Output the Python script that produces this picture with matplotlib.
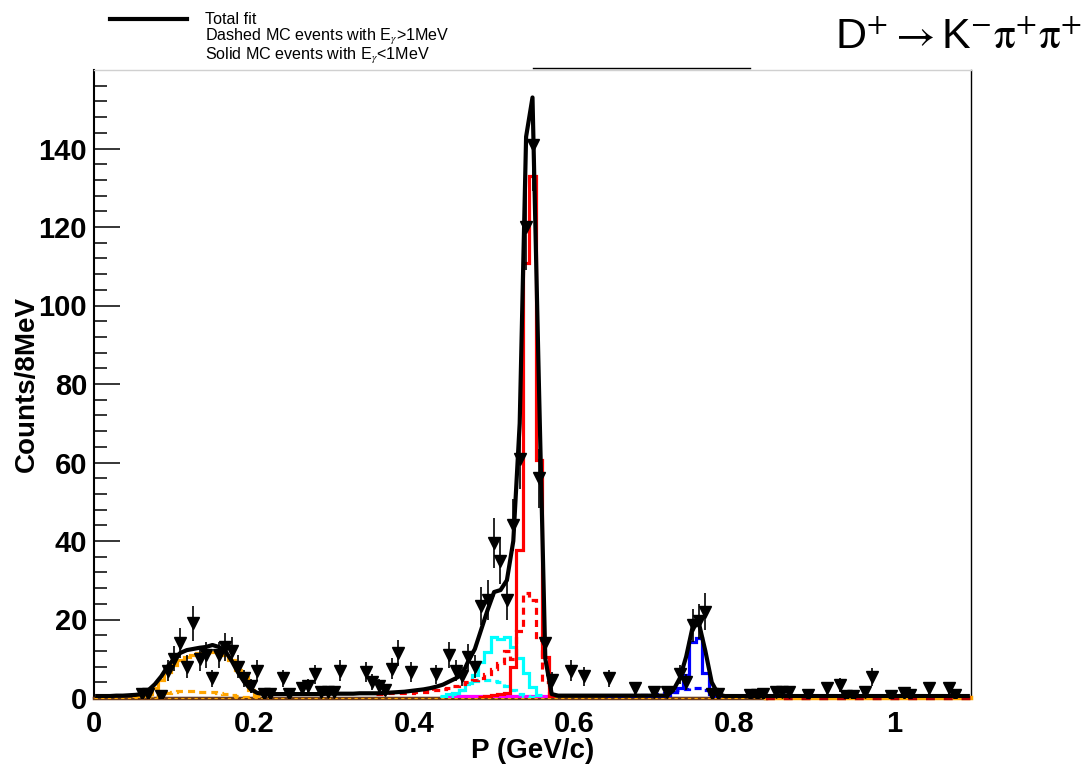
import numpy as np
import matplotlib
matplotlib.use("Agg")
import matplotlib.pyplot as plt
from matplotlib.lines import Line2D

plt.rcParams['font.family'] = ['Liberation Sans', 'DejaVu Sans']
plt.rcParams['mathtext.fontset'] = 'stix'

# binning: 8 MeV bins from 0
BIN_WIDTH = 0.008
N_BINS = 137

# data points (bin index, counts)
data_bins = [7, 8, 10, 11, 12, 13, 14, 15, 16, 17, 18, 19, 20, 21, 22, 23, 24, 25,
             26, 27, 29, 30, 32, 33, 34, 35, 36, 37, 38, 42, 43, 44, 45, 46, 47, 49,
             53, 55, 56, 57, 58, 59, 60, 61, 62, 63, 64, 65, 66, 67, 68, 69, 70, 71,
             74, 76, 80, 84, 87, 89, 91, 92, 93, 94, 95, 96, 97, 102, 103, 104, 106,
             107, 108, 111, 114, 116, 117, 118, 120, 121, 124, 126, 127, 130, 133, 134]
data_counts = [1, 1, 0.4, 7, 10, 14, 8, 19, 10, 11, 5, 11, 13, 12, 8, 5, 3, 7,
               1, 1, 5, 1, 2.5, 3, 6, 1.5, 1.5, 1.5, 7, 6.5, 4, 3, 2, 7.5, 11.5, 6.5,
               6, 11, 7, 5.5, 10.5, 8, 23.5, 25, 39.5, 35, 25, 44, 61, 120, 141, 56, 14, 4.5,
               7, 5.5, 5, 2.5, 1.5, 1.5, 6, 4, 18.5, 19.5, 22, 1, 1, 0.7, 0.7, 1, 1.5,
               1.5, 1.5, 0.8, 2.5, 3.3, 0.5, 0.5, 1.5, 5.4, 0.5, 1.2, 0.8, 2.5, 2.5, 0.8]

# total fit, one value per bin centre
fit_values = [
    0.5, 0.5, 0.5, 0.6, 0.6, 0.7, 0.8, 1.0, 2.0, 3.5,
    5.5, 8.0, 10.0, 11.5, 12.2, 12.5, 12.8, 13.0, 13.5, 13.0,
    12.0, 9.5, 6.5, 4.0, 2.2, 1.3, 1.0, 1.0, 1.0, 1.0,
    1.0, 1.0, 1.0, 1.0, 1.0, 1.0, 1.1, 1.1, 1.1, 1.1,
    1.1, 1.2, 1.2, 1.2, 1.2, 1.3, 1.4, 1.5, 1.6, 1.8,
    2.0, 2.2, 2.5, 2.9, 3.4, 4.2, 5.0, 6.0, 9.5, 12.5,
    17.5, 22.5, 27.0, 27.5, 30.0, 40.0, 70.0, 143.0, 153.0, 80.0,
    10.0, 1.0, 0.6, 0.6, 0.6, 0.6, 0.6, 0.6, 0.6, 0.6,
    0.6, 0.6, 0.6, 0.6, 0.6, 0.6, 0.6, 0.6, 0.6, 0.6,
    2.0, 5.0, 10.5, 18.0, 19.0, 12.0, 4.0, 1.0, 0.5, 0.5,
    0.5, 0.5, 0.5, 0.5, 0.5, 0.5, 0.5, 0.5, 0.5, 0.5,
    0.5, 0.5, 0.5, 0.5, 0.5, 0.5, 0.5, 0.5, 0.5, 0.5,
    0.5, 0.5, 0.5, 0.5, 0.5, 0.5, 0.5, 0.5, 0.5, 0.5,
    0.5, 0.5, 0.5, 0.5, 0.5, 0.5, 0.5,
]

# MC components: (first bin, contents)
orange_solid_start = 6
orange_solid = [0.3, 0.5, 1, 2.5, 4.6, 6.7, 8.4, 9.7, 10.5, 11, 11.4, 11.4, 11.8, 12,
                11, 9.7, 7.1, 5.4, 2.1, 0.5]
orange_dashed_start = 8
orange_dashed = [0.3, 0.6, 1.0, 1.3, 1.5, 1.8, 1.8, 1.8, 1.6, 1.5, 1.5, 1.2, 1.0, 0.8,
                 0.5, 0.3, 0.2]

cyan_solid_start = 54
cyan_solid = [0.5, 1, 1.2, 2, 3.7, 5.9, 9.2, 11.8, 15.6, 15, 15.6, 13, 10.2, 6.3, 2.9, 0.7]
cyan_dashed_start = 54
cyan_dashed = [0.3, 0.5, 1, 2, 3.5, 4.3, 4.6, 4.6, 4.4, 4.2, 3, 2, 1, 0.5, 0.3]

red_solid_start = 60
red_solid = [0.3, 0.5, 0.7, 1, 1.3, 8, 37.7, 110.8, 133, 60.6, 10.5, 0.5]
red_dashed_start = 44
red_dashed = [1, 1, 1.2, 1.2, 1.3, 1.3, 1.5, 1.5, 1.8, 2, 2.2, 2.5, 3, 3.5, 4, 4.5,
              5, 6, 7.5, 9, 12, 10, 17, 26.7, 25, 14.8, 4, 0.5]

magenta_start = 55
magenta = [0.4, 0.4, 0.4, 0.4, 0.4, 0.4, 0.4, 0.4, 0.4, 0.4, 0.4, 0.4, 0.4, 0.4, 0.4, 0.4]

blue_solid_start = 86
blue_solid = [0.3, 0.5, 0.6, 0.8, 1.5, 2.5, 5.9, 14.3, 15.4, 6.3, 1, 0.3]
blue_dashed_start = 80
blue_dashed = [0.3, 0.4, 0.5, 0.5, 0.6, 0.7, 0.8, 0.9, 1, 1.2, 1.5, 2.0, 2.2, 2.5,
               2.5, 2.0, 0.5]

x_ticks = [0, 0.2, 0.4, 0.6, 0.8, 1.0]
x_tick_labels = ['0', '0.2', '0.4', '0.6', '0.8', '1']
y_ticks = [0, 20, 40, 60, 80, 100, 120, 140]


def draw_component(ax, start, values, color, dashed=False):
    edges = (start + np.arange(len(values) + 1)) * BIN_WIDTH
    ls = (0, (2.2, 1.6)) if dashed else '-'
    ax.stairs(values, edges, baseline=None, color=color, lw=2.3, linestyle=ls, zorder=3)


fig = plt.figure(figsize=(10.88, 7.68), dpi=100)
ax = fig.add_axes([94 / 1088, 70 / 768, 877 / 1088, 628 / 768])

# zero line made of the many empty background histograms
x_end = N_BINS * BIN_WIDTH
ax.plot([0, 0.84], [0, 0], color='#6b3a1a', lw=2.5, clip_on=False, zorder=2.6)
ax.plot([0, 0.84], [0, 0], color='orange', lw=0.8, linestyle=(0, (3, 3)),
        clip_on=False, zorder=2.7)
ax.plot([0.84, x_end], [0, 0], color='orange', lw=3.2, clip_on=False, zorder=2.6)
ax.plot([0.84, x_end], [0, 0], color='#b00000', lw=3.2,
        linestyle=(0, (2, 2)), clip_on=False, zorder=2.7)

draw_component(ax, magenta_start, magenta, 'magenta')
draw_component(ax, orange_dashed_start, orange_dashed, 'orange', dashed=True)
draw_component(ax, orange_solid_start, orange_solid, 'orange')
draw_component(ax, cyan_dashed_start, cyan_dashed, 'cyan', dashed=True)
draw_component(ax, cyan_solid_start, cyan_solid, 'cyan')
draw_component(ax, red_dashed_start, red_dashed, 'red', dashed=True)
draw_component(ax, red_solid_start, red_solid, 'red')
draw_component(ax, blue_dashed_start, blue_dashed, 'blue', dashed=True)
draw_component(ax, blue_solid_start, blue_solid, 'blue')

centers = (np.arange(N_BINS) + 0.5) * BIN_WIDTH
ax.plot(centers, fit_values, color='black', lw=3, zorder=4)

data_x = (np.array(data_bins) + 0.5) * BIN_WIDTH
data_y = np.array(data_counts)
ax.errorbar(data_x, data_y, yerr=np.sqrt(data_y), fmt='v', color='black', ms=8.5,
            elinewidth=1.2, capsize=0, zorder=5)

ax.set_xlim(0, x_end)
ax.set_ylim(0, 160)
ax.set_xticks(x_ticks)
ax.set_xticklabels(x_tick_labels)
ax.set_yticks(y_ticks)
ax.set_yticks(np.arange(4, 160, 4), minor=True)
ax.tick_params(axis='x', length=0, pad=9, labelsize=21)
ax.tick_params(axis='y', which='major', direction='in', length=18.5, width=1.1,
               pad=5, labelsize=21)
ax.tick_params(axis='y', which='minor', direction='in', length=9.3, width=1.1)
for lab in ax.get_xticklabels() + ax.get_yticklabels():
    lab.set_fontweight('bold')

for side in ['left', 'bottom']:
    ax.spines[side].set_linewidth(1.5)
ax.spines['right'].set_linewidth(1.0)
ax.spines['top'].set_color('#d0d0d0')
ax.spines['top'].set_linewidth(1.0)

ax.set_xlabel('P (GeV/c)', fontsize=20, fontweight='bold')
ax.set_ylabel('Counts/8MeV', fontsize=20, fontweight='bold')
ax.yaxis.set_label_coords(-0.0616, 0.5)
ax.xaxis.set_label_coords(0.5, -0.063)

# legend drawn by hand, as in the original
fig.add_artist(Line2D([110 / 1088, 187 / 1088], [1 - 19 / 768] * 2, color='black', lw=3))
fig.text(205 / 1088, 1 - 20 / 768, 'Total fit', fontsize=11.6, va='center')
fig.text(205 / 1088, 1 - 37 / 768, r'Dashed MC events with E$_{\gamma}$>1MeV', fontsize=11.6, va='center')
fig.text(205 / 1088, 1 - 56 / 768, r'Solid MC events with E$_{\gamma}$<1MeV', fontsize=11.6, va='center')
fig.add_artist(Line2D([533 / 1088, 750 / 1088], [1 - 68 / 768] * 2, color='black', lw=1))

fig.text(1082 / 1088, 1 - 38 / 768,
         r'D$^{+}$${\rightarrow}$K$^{-}$$\mathrm{\pi}^{+}\mathrm{\pi}^{+}$',
         fontsize=31, ha='right', va='center')

fig.savefig('out.png', dpi=100)
